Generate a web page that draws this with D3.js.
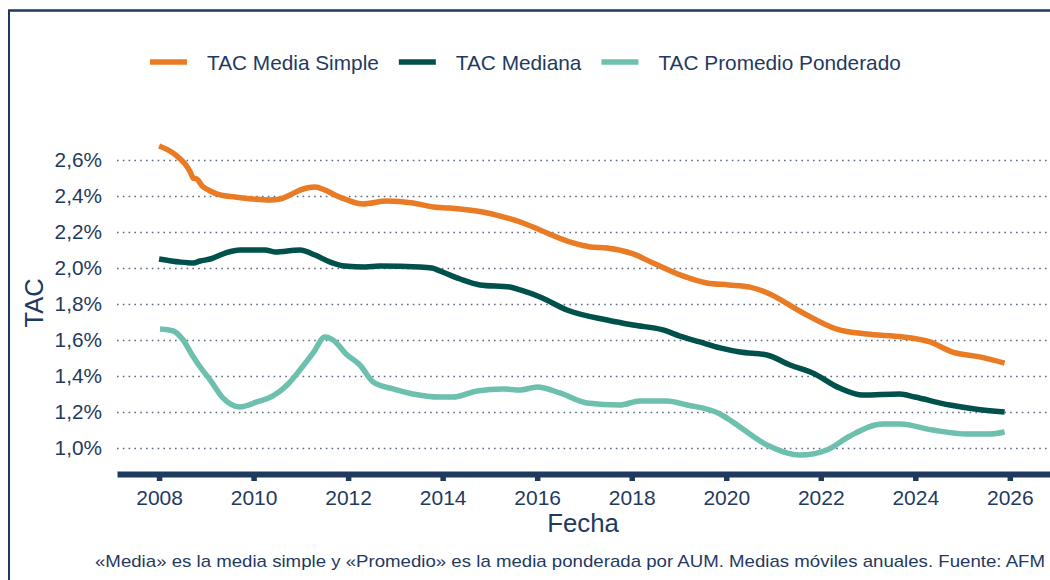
<!DOCTYPE html>
<html>
<head>
<meta charset="utf-8">
<script src="https://cdn.jsdelivr.net/npm/d3@7"></script>
<style>
  body { margin: 0; background: #fff; }
  text { font-family: "Liberation Sans", Arial, sans-serif; fill: #1f3a5f; }
</style>
</head>
<body>
<div id="chart"></div>
<script>
// datos (fecha en años decimales, TAC en %)
const fechasMedia = [2008.00,2008.23,2008.40,2008.55,2008.66,2008.72,2008.80,2008.91,2009.08,2009.29,2009.61,2009.99,2010.35,2010.56,2010.77,2010.98,2011.30,2011.51,2011.72,2011.98,2012.31,2012.82,2013.37,2013.80,2014.15,2014.85,2015.30,2015.70,2016.06,2016.76,2017.12,2017.48,2018.03,2018.45,2019.08,2019.59,2020.05,2020.50,2020.92,2021.56,2022.34,2022.97,2023.74,2024.31,2024.79,2025.36,2025.89];
const media = [2.678,2.650,2.617,2.578,2.533,2.500,2.494,2.456,2.428,2.406,2.394,2.383,2.378,2.383,2.406,2.433,2.450,2.433,2.406,2.378,2.356,2.372,2.361,2.339,2.333,2.311,2.283,2.250,2.211,2.139,2.117,2.111,2.078,2.028,1.956,1.917,1.906,1.894,1.856,1.760,1.661,1.633,1.617,1.589,1.533,1.506,1.472];

const fechasMediana = [2008.00,2008.44,2008.72,2008.87,2009.08,2009.40,2009.71,2010.24,2010.45,2010.98,2011.30,2011.62,2011.93,2012.36,2012.67,2013.52,2013.77,2014.05,2014.37,2014.79,2015.42,2015.64,2016.06,2016.63,2017.48,2018.03,2018.66,2019.02,2019.44,2019.87,2020.29,2020.86,2021.35,2021.83,2022.40,2022.89,2023.67,2023.99,2024.73,2025.26,2025.89];
const mediana = [2.050,2.033,2.028,2.039,2.050,2.083,2.100,2.100,2.089,2.100,2.072,2.033,2.011,2.006,2.011,2.006,2.000,1.972,1.939,1.906,1.894,1.878,1.839,1.767,1.711,1.683,1.656,1.622,1.589,1.556,1.533,1.517,1.461,1.417,1.333,1.294,1.300,1.283,1.239,1.217,1.200];

const fechasPonderado = [2008.02,2008.30,2008.51,2008.70,2008.87,2009.08,2009.35,2009.71,2010.07,2010.41,2010.71,2010.98,2011.26,2011.51,2011.68,2011.98,2012.25,2012.53,2012.95,2013.37,2013.94,2014.22,2014.73,2015.28,2015.64,2016.00,2016.48,2017.05,2017.75,2018.17,2018.74,2019.17,2019.87,2020.14,2020.86,2021.56,2022.13,2022.62,2023.31,2023.67,2024.37,2025.09,2025.58,2025.89];
const ponderado = [1.661,1.650,1.600,1.517,1.450,1.378,1.278,1.228,1.256,1.289,1.350,1.433,1.528,1.617,1.600,1.517,1.461,1.367,1.328,1.300,1.283,1.283,1.317,1.328,1.322,1.339,1.306,1.250,1.239,1.261,1.261,1.239,1.189,1.144,1.017,0.961,0.989,1.067,1.133,1.133,1.100,1.078,1.078,1.089];

const ticksY = [1.0,1.2,1.4,1.6,1.8,2.0,2.2,2.4,2.6];
const ticksX = [2008,2010,2012,2014,2016,2018,2020,2022,2024,2026];

const series = [
  {name: "TAC Media Simple", color: "#e97b24", x: fechasMedia, y: media},
  {name: "TAC Mediana", color: "#00504b", x: fechasMediana, y: mediana},
  {name: "TAC Promedio Ponderado", color: "#6dbfae", x: fechasPonderado, y: ponderado}
];

const width = 1050, height = 580;
const azul = "#1f3a5f";

const svg = d3.select("#chart").append("svg")
  .attr("width", width)
  .attr("height", height);

// marco
svg.append("line").attr("x1", 9).attr("x2", 9).attr("y1", 10).attr("y2", height)
  .attr("stroke", azul).attr("stroke-width", 2);
svg.append("line").attr("x1", 8).attr("x2", width).attr("y1", 10.5).attr("y2", 10.5)
  .attr("stroke", azul).attr("stroke-width", 2.5);

const x = d3.scaleLinear()
  .domain([2007.11, 2026.85])
  .range([117, 1050]);

const y = d3.scaleLinear()
  .domain([1.0, 2.6])
  .range([448, 160]);

const loc = d3.formatLocale({decimal: ",", thousands: ".", grouping: [3], currency: ["", "€"]});
const fmt = loc.format(".1f");

// eje y + rejilla punteada
const gy = svg.append("g")
  .attr("transform", "translate(117,0)")
  .call(d3.axisLeft(y).tickValues(ticksY).tickFormat(d => fmt(d) + "%").tickSize(-(1050 - 117)).tickPadding(15));
gy.select(".domain").remove();
gy.selectAll(".tick line")
  .attr("stroke", "#5b6b86")
  .attr("stroke-width", 1.6)
  .attr("stroke-dasharray", "1.6,4.2");
gy.selectAll(".tick text")
  .attr("font-size", "20.8px")
  .attr("fill", azul)
  .attr("font-family", "Liberation Sans, Arial, sans-serif");

// eje x
const gx = svg.append("g")
  .attr("transform", "translate(0,474)")
  .call(d3.axisBottom(x).tickValues(ticksX).tickFormat(d3.format("d")).tickSize(7).tickSizeOuter(0).tickPadding(9));
gx.select(".domain").attr("stroke", azul).attr("stroke-width", 6);
gx.selectAll(".tick line").attr("stroke", azul).attr("stroke-width", 5.5);
gx.selectAll(".tick text")
  .attr("font-size", "21px")
  .attr("fill", azul)
  .attr("font-family", "Liberation Sans, Arial, sans-serif");

// lineas
const linea = d3.line()
  .x(d => x(d[0]))
  .y(d => y(d[1]))
  .curve(d3.curveMonotoneX);

series.forEach(s => {
  svg.append("path")
    .datum(s.x.map((f, i) => [f, s.y[i]]))
    .attr("fill", "none")
    .attr("stroke", s.color)
    .attr("stroke-width", 5.5)
    .attr("stroke-linejoin", "round")
    .attr("d", linea);
});

// titulos de ejes
svg.append("text")
  .attr("x", 583).attr("y", 532)
  .attr("text-anchor", "middle")
  .attr("font-size", "25.8px")
  .text("Fecha");

svg.append("text")
  .attr("transform", "translate(43,303) rotate(-90)")
  .attr("text-anchor", "middle")
  .attr("font-size", "25.5px")
  .text("TAC");

// leyenda
let lx = 150;
series.forEach(s => {
  svg.append("line")
    .attr("x1", lx).attr("x2", lx + 37)
    .attr("y1", 62).attr("y2", 62)
    .attr("stroke", s.color).attr("stroke-width", 5.5);
  const t = svg.append("text")
    .attr("x", lx + 57).attr("y", 69.5)
    .attr("font-size", "20.8px")
    .text(s.name);
  lx += 57 + t.node().getComputedTextLength() + 20;
});

// nota (texto ancho en el original)
svg.append("text")
  .attr("x", 95).attr("y", 567)
  .attr("font-size", "16.6px")
  .attr("textLength", 950)
  .attr("lengthAdjust", "spacingAndGlyphs")
  .text("«Media» es la media simple y «Promedio» es la media ponderada por AUM. Medias móviles anuales. Fuente: AFM");
</script>
</body>
</html>
